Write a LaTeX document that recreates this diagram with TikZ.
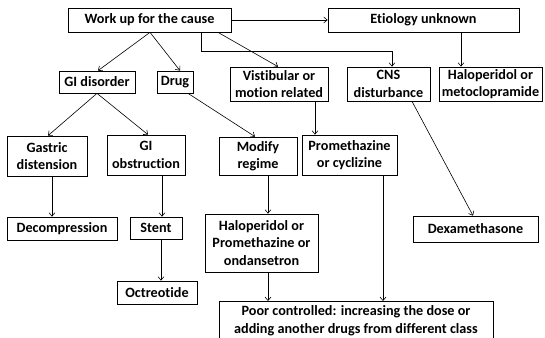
\documentclass[tikz,border=0pt]{standalone}
\usepackage{fontspec}
\setmainfont{Carlito}[BoldFont={Carlito Bold},Ligatures=NoCommon]
\usetikzlibrary{arrows.meta}
\begin{document}
\begin{tikzpicture}[x=1pt,y=-1pt,
  box/.style={draw=black, line width=0.7pt, inner sep=0pt, align=center,
    font=\bfseries\fontsize{14.2}{17.5}\selectfont},
  conn/.style={line width=0.6pt, -{Straight Barb[length=3.5pt,width=6pt]}},
  plain/.style={line width=0.6pt}]
\useasboundingbox (0,0) rectangle (545,337);
\clip (0,0) rectangle (545,337);
\node[box, minimum width=163pt, minimum height=24pt] (work) at (149.5,20) {Work up for the cause};
\node[box, minimum width=191pt, minimum height=24pt] (etio) at (423.5,20) {Etiology unknown};
\node[box, minimum width=76pt, minimum height=22pt] (gidis) at (97,82) {GI disorder};
\node[box, minimum width=36pt, minimum height=22pt] (drug) at (175,82) {Drug};
\node[box, minimum width=98pt, minimum height=34pt] (vest) at (279,84) {Vistibular or\\motion related};
\node[box, minimum width=83pt, minimum height=34pt] (cns) at (388.5,84) {CNS\\disturbance};
\node[box, minimum width=103pt, minimum height=34pt] (halmeto) at (490.5,84) {Haloperidol or\\metoclopramide};
\node[box, minimum width=80pt, minimum height=40pt] (gastric) at (47,156) {Gastric\\distension};
\node[box, minimum width=78pt, minimum height=40pt] (giob) at (146,155) {GI\\obstruction};
\node[box, minimum width=78pt, minimum height=38pt] (modify) at (258,156) {Modify\\regime};
\node[box, minimum width=95pt, minimum height=40pt] (prom) at (349.5,155) {Promethazine\\or cyclizine};
\node[box, minimum width=110pt, minimum height=23pt] (decomp) at (62,228.5) {Decompression};
\node[box, minimum width=52pt, minimum height=22pt] (stent) at (156,228) {Stent};
\node[box, minimum width=113pt, minimum height=58pt] (halo) at (261.5,243) {Haloperidol or\\Promethazine or\\ondansetron};
\node[box, minimum width=125pt, minimum height=26pt] (dexa) at (475.5,229) {Dexamethasone};
\node[box, minimum width=80pt, minimum height=23pt] (octreo) at (157,292.5) {Octreotide};
\node[box, minimum width=274pt, minimum height=39pt, anchor=north] (poor) at (356,301)
  {Poor controlled: increasing the dose or\\adding another drugs from different class};
\draw[conn] (work.east) -- (etio.west);
\draw[conn] (150,0 |- work.south) -- (98,0 |- gidis.north);
\draw[conn] (150,0 |- work.south) -- (180,0 |- drug.north);
\draw[conn] (218,0 |- work.south) -- (278,0 |- vest.north);
\coordinate (e1) at (201,51);
\coordinate (e2) at (392,51);
\draw[conn] (201,0 |- work.south) -- (e1) -- (e2) -- (392,0 |- cns.north);
\draw[conn] (461,0 |- etio.south) -- (461,0 |- halmeto.north);
\draw[conn] (97,0 |- gidis.south) -- (48,0 |- gastric.north);
\draw[conn] (97,0 |- gidis.south) -- (148,0 |- giob.north);
\draw[conn] (188,0 |- drug.south) -- (255,0 |- modify.north);
\draw[conn] (315,0 |- vest.south) -- (315,0 |- prom.north);
\draw[conn] (412,0 |- cns.south) -- (473,0 |- dexa.north);
\draw[conn] (52,0 |- gastric.south) -- (52,0 |- decomp.north);
\draw[conn] (162,0 |- giob.south) -- (162,0 |- stent.north);
\draw[conn] (161,0 |- stent.south) -- (161,0 |- octreo.north);
\draw[conn] (268,0 |- modify.south) -- (268,0 |- halo.north);
\draw[conn] (268,0 |- halo.south) -- (268,0 |- poor.north);
\draw[conn] (383,0 |- prom.south) -- (383,0 |- poor.north);
\end{tikzpicture}
\end{document}
